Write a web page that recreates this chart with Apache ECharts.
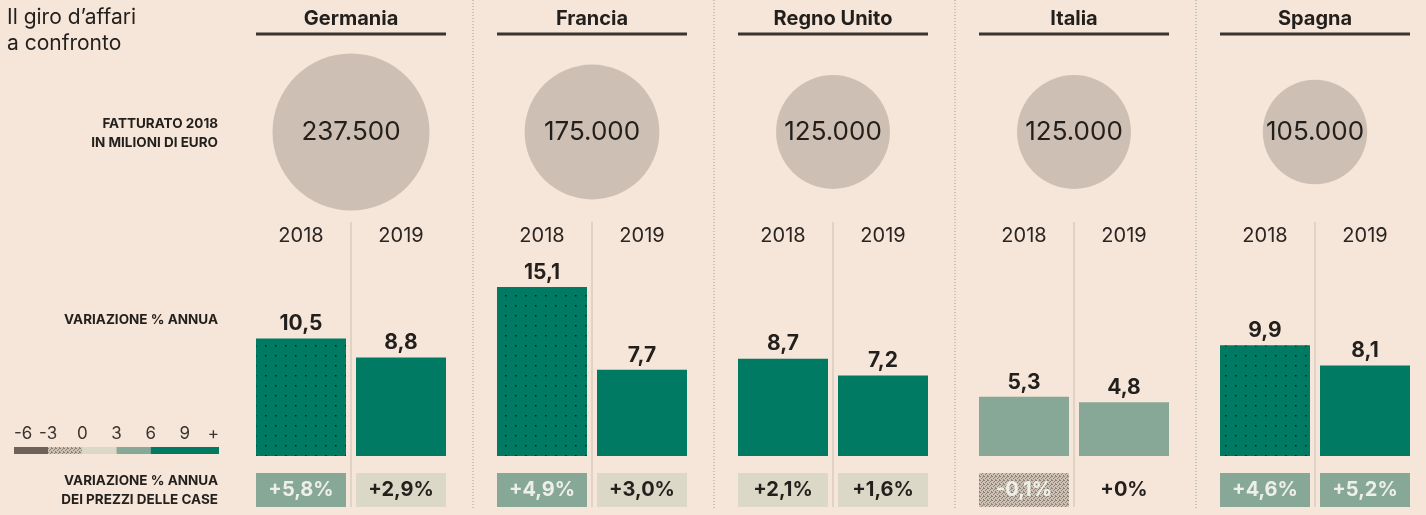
<!DOCTYPE html>
<html>
<head>
<meta charset="utf-8">
<script src="https://cdn.jsdelivr.net/npm/echarts@6/dist/echarts.min.js"></script>
<style>
  html, body { margin: 0; padding: 0; background: #f5e6d9; }
  #chart { width: 1426px; height: 515px; }
</style>
</head>
<body>
<!-- contenitore del grafico -->
<div id="chart"></div>
<script>
// dati
var countries = ['Germania', 'Francia', 'Regno Unito', 'Italia', 'Spagna'];
var years = ['2018', '2019'];
var turnover2018 = [237500, 175000, 125000, 125000, 105000];
var growth2018 = [10.5, 15.1, 8.7, 5.3, 9.9];
var growth2019 = [8.8, 7.7, 7.2, 4.8, 8.1];
var dotted2018 = [true, true, false, false, true];
var housePrice2018 = [5.8, 4.9, 2.1, -0.1, 4.6];
var housePrice2019 = [2.9, 3.0, 1.6, 0, 5.2];
var legendBreaks = [-6, -3, 0, 3, 6, 12];

// colori e layout
var FONT = 'Inter, "Noto Sans", sans-serif';
var GREEN = '#007a62', SAGE = '#87a896', LIGHT = '#dcd8c8', DARK = '#6d625a';
var INK = '#231f1c', BG = '#f5e6d9';
var PANEL_LEFT = 251, PANEL_STEP = 241, PANEL_W = 200;

function makePattern(w, h, draw) {
  var c = document.createElement('canvas');
  c.width = w; c.height = h;
  draw(c.getContext('2d'));
  return { image: c, repeat: 'repeat' };
}
var dotGreen = makePattern(10, 10, function (ctx) {
  ctx.fillStyle = GREEN; ctx.fillRect(0, 0, 10, 10);
  ctx.fillStyle = '#10201a'; ctx.fillRect(5, 5, 1.5, 1.5);
});
var hatch = makePattern(4, 4, function (ctx) {
  ctx.fillStyle = '#cdc1b6'; ctx.fillRect(0, 0, 4, 4);
  ctx.fillStyle = '#8e8176';
  [[0, 0], [2, 1], [1, 2], [3, 3], [3, 0]].forEach(function (p) { ctx.fillRect(p[0], p[1], 1, 1); });
});
var circleFill = makePattern(6, 6, function (ctx) {
  ctx.fillStyle = '#cdbfb3'; ctx.fillRect(0, 0, 6, 6);
  ctx.fillStyle = '#d8ccc1'; ctx.fillRect(1, 1, 1, 1); ctx.fillRect(4, 4, 1, 1);
});

// classe di colore della legenda
function classColor(v) {
  if (v < -3) return DARK;
  if (v < 0) return hatch;
  if (v <= 3) return LIGHT;
  if (v < 6) return SAGE;
  return GREEN;
}
function comma(v) { return v.toFixed(1).replace('.', ','); }
function pct(v) { return v === 0 ? '+0%' : (v > 0 ? '+' : '') + comma(v) + '%'; }
function thousands(v) { return String(v).replace(/\B(?=(\d{3})+(?!\d))/g, '.'); }

var maxTurnover = Math.max.apply(null, turnover2018);
var grids = [], xAxes = [], yAxes = [], series = [], graphics = [];

countries.forEach(function (name, i) {
  var left = PANEL_LEFT + PANEL_STEP * i;

  // cerchio del fatturato
  var g = grids.length;
  grids.push({ left: left, top: 42, width: PANEL_W, height: 180 });
  xAxes.push({ gridIndex: g, type: 'value', min: 0, max: 1, show: false });
  yAxes.push({ gridIndex: g, type: 'value', min: 0, max: 1, show: false });
  series.push({
    type: 'scatter', xAxisIndex: g, yAxisIndex: g, silent: true,
    symbolSize: 157 * Math.sqrt(turnover2018[i] / maxTurnover),
    itemStyle: { color: circleFill, opacity: 1 },
    label: {
      show: true, position: 'inside', fontSize: 26, fontFamily: FONT, color: INK,
      formatter: function (p) { return thousands(p.value[2]); }
    },
    data: [[0.5, 0.5, turnover2018[i]]]
  });

  // barre della variazione annua
  g = grids.length;
  grids.push({ left: left, top: 277, width: PANEL_W, height: 179 });
  xAxes.push({
    gridIndex: g, type: 'category', data: years, position: 'top',
    axisLine: { show: false }, axisTick: { show: false },
    axisLabel: { fontSize: 20, fontFamily: FONT, color: '#2a2522', margin: 31 }
  });
  yAxes.push({ gridIndex: g, type: 'value', min: 0, max: 16, show: false });
  series.push({
    type: 'bar', xAxisIndex: g, yAxisIndex: g, barWidth: 90, silent: true,
    label: {
      show: true, position: 'top', distance: 4, fontSize: 21, fontWeight: 'bold',
      fontFamily: FONT, color: INK,
      formatter: function (p) { return comma(p.value); }
    },
    data: [
      { value: growth2018[i], itemStyle: { color: dotted2018[i] ? dotGreen : classColor(growth2018[i]) } },
      { value: growth2019[i], itemStyle: { color: classColor(growth2019[i]) } }
    ]
  });

  // riquadri dei prezzi delle case
  g = grids.length;
  grids.push({ left: left, top: 473, width: PANEL_W, height: 34 });
  xAxes.push({ gridIndex: g, type: 'category', data: years, show: false });
  yAxes.push({ gridIndex: g, type: 'value', min: 0, max: 1, show: false });
  series.push({
    type: 'bar', xAxisIndex: g, yAxisIndex: g, barWidth: 90, silent: true,
    data: [housePrice2018[i], housePrice2019[i]].map(function (v) {
      var col = v === 0 ? 'transparent' : classColor(v);
      var light = v < 0 || v > 3;
      return {
        value: 1, pct: v,
        itemStyle: { color: col },
        label: {
          show: true, position: 'inside', fontSize: 20, fontWeight: 'bold', fontFamily: FONT,
          color: light ? '#eef0e8' : INK, formatter: pct(v)
        }
      };
    })
  });

  // intestazione del paese
  var center = left + PANEL_W / 2;
  graphics.push({
    type: 'text', x: center, y: 19,
    style: { text: name, fontSize: 20, fontWeight: 'bold', fontFamily: FONT, fill: INK,
      align: 'center', textAlign: 'center', verticalAlign: 'middle', textVerticalAlign: 'middle' }
  });
  graphics.push({
    type: 'line', shape: { x1: left + 5, y1: 34, x2: left + PANEL_W - 5, y2: 34 },
    style: { stroke: '#3b332e', lineWidth: 3 }
  });
  graphics.push({
    type: 'line', shape: { x1: center, y1: 222, x2: center, y2: 507 },
    style: { stroke: '#cbbfb3', lineWidth: 1 }, z: -1
  });
  if (i < countries.length - 1) {
    var sx = left + PANEL_W + 22;
    graphics.push({
      type: 'line', shape: { x1: sx, y1: 0, x2: sx, y2: 508 },
      style: { stroke: '#8fa39a', lineWidth: 1, lineDash: [1, 2] }, z: -1
    });
  }
});

// legenda della scala di colori
var lg = grids.length;
grids.push({ left: 14, top: 447, width: 205, height: 7 });
xAxes.push({
  gridIndex: lg, type: 'value', min: -6, max: 12, interval: 3, position: 'top',
  axisLine: { show: false }, axisTick: { show: false }, splitLine: { show: false },
  axisLabel: {
    fontSize: 17, fontFamily: FONT, color: '#3a3430', margin: 5,
    alignMinLabel: 'left', alignMaxLabel: 'right',
    formatter: function (v) { return v === 12 ? '+' : String(v); }
  }
});
yAxes.push({ gridIndex: lg, type: 'category', data: ['scala'], show: false });
series.push({
  type: 'custom', xAxisIndex: lg, yAxisIndex: lg, silent: true,
  data: legendBreaks.slice(0, -1).map(function (b, k) { return [b, legendBreaks[k + 1]]; }),
  renderItem: function (params, api) {
    var s = api.coord([api.value(0), 0]);
    var e = api.coord([api.value(1), 0]);
    var h = api.size([0, 1])[1];
    return {
      type: 'rect',
      shape: { x: s[0], y: s[1] - h / 2, width: e[0] - s[0], height: h },
      style: { fill: classColor((api.value(0) + api.value(1)) / 2) }
    };
  }
});

// testi a sinistra
function leftText(text, y, size, weight, align, x, lh) {
  graphics.push({
    type: 'text', x: x, y: y,
    style: { text: text, fontSize: size, fontWeight: weight, fontFamily: FONT, fill: INK,
      lineHeight: lh, align: align, textAlign: align, verticalAlign: 'top', textVerticalAlign: 'top' }
  });
}
leftText('Il giro d\u2019affari\na confronto', 5, 21, 'normal', 'left', 7, 26);
leftText('FATTURATO 2018\nIN MILIONI DI EURO', 114, 13.5, 'bold', 'right', 218, 19);
leftText('VARIAZIONE % ANNUA', 310, 13.5, 'bold', 'right', 218, 19);
leftText('VARIAZIONE % ANNUA\nDEI PREZZI DELLE CASE', 471, 13.5, 'bold', 'right', 218, 19);

var myChart = echarts.init(document.getElementById('chart'));
var option = {
  backgroundColor: BG,
  animation: false,
  grid: grids,
  xAxis: xAxes,
  yAxis: yAxes,
  series: series,
  graphic: graphics
};
option && myChart.setOption(option);
</script>
</body>
</html>
